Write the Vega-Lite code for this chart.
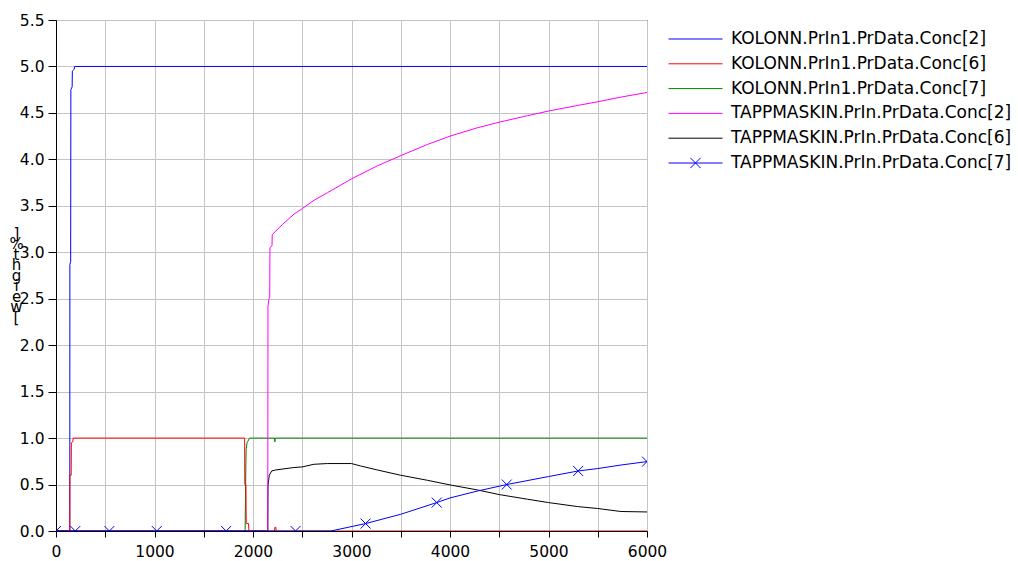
{
  "$schema": "https://vega.github.io/schema/vega-lite/v6.json",
  "width": 591,
  "height": 511,
  "autosize": "none",
  "padding": {"left": 56, "top": 20, "right": 371, "bottom": 30},
  "background": "white",
  "data": {
    "values": [
      {"s": "KOLONN.PrIn1.PrData.Conc[2]", "t": 0, "v": 0},
      {"s": "KOLONN.PrIn1.PrData.Conc[2]", "t": 140, "v": 0},
      {"s": "KOLONN.PrIn1.PrData.Conc[2]", "t": 141, "v": 2.87},
      {"s": "KOLONN.PrIn1.PrData.Conc[2]", "t": 149, "v": 2.9},
      {"s": "KOLONN.PrIn1.PrData.Conc[2]", "t": 151, "v": 4.75},
      {"s": "KOLONN.PrIn1.PrData.Conc[2]", "t": 164, "v": 4.78},
      {"s": "KOLONN.PrIn1.PrData.Conc[2]", "t": 166, "v": 4.95},
      {"s": "KOLONN.PrIn1.PrData.Conc[2]", "t": 185, "v": 4.97},
      {"s": "KOLONN.PrIn1.PrData.Conc[2]", "t": 190, "v": 5.0},
      {"s": "KOLONN.PrIn1.PrData.Conc[2]", "t": 6000, "v": 5.0},

      {"s": "KOLONN.PrIn1.PrData.Conc[7]", "t": 0, "v": 0},
      {"s": "KOLONN.PrIn1.PrData.Conc[7]", "t": 1920, "v": 0},
      {"s": "KOLONN.PrIn1.PrData.Conc[7]", "t": 1925, "v": 0.5},
      {"s": "KOLONN.PrIn1.PrData.Conc[7]", "t": 1930, "v": 0.88},
      {"s": "KOLONN.PrIn1.PrData.Conc[7]", "t": 1940, "v": 0.95},
      {"s": "KOLONN.PrIn1.PrData.Conc[7]", "t": 1965, "v": 1.0},
      {"s": "KOLONN.PrIn1.PrData.Conc[7]", "t": 2218, "v": 1.0},
      {"s": "KOLONN.PrIn1.PrData.Conc[7]", "t": 2222, "v": 0.96},
      {"s": "KOLONN.PrIn1.PrData.Conc[7]", "t": 2226, "v": 1.0},
      {"s": "KOLONN.PrIn1.PrData.Conc[7]", "t": 6000, "v": 1.0},

      {"s": "KOLONN.PrIn1.PrData.Conc[6]", "t": 0, "v": 0},
      {"s": "KOLONN.PrIn1.PrData.Conc[6]", "t": 140, "v": 0},
      {"s": "KOLONN.PrIn1.PrData.Conc[6]", "t": 141, "v": 0.6},
      {"s": "KOLONN.PrIn1.PrData.Conc[6]", "t": 154, "v": 0.6},
      {"s": "KOLONN.PrIn1.PrData.Conc[6]", "t": 156, "v": 0.95},
      {"s": "KOLONN.PrIn1.PrData.Conc[6]", "t": 170, "v": 0.96},
      {"s": "KOLONN.PrIn1.PrData.Conc[6]", "t": 175, "v": 1.0},
      {"s": "KOLONN.PrIn1.PrData.Conc[6]", "t": 1915, "v": 1.0},
      {"s": "KOLONN.PrIn1.PrData.Conc[6]", "t": 1917, "v": 0.5},
      {"s": "KOLONN.PrIn1.PrData.Conc[6]", "t": 1928, "v": 0.5},
      {"s": "KOLONN.PrIn1.PrData.Conc[6]", "t": 1931, "v": 0.08},
      {"s": "KOLONN.PrIn1.PrData.Conc[6]", "t": 1955, "v": 0.08},
      {"s": "KOLONN.PrIn1.PrData.Conc[6]", "t": 1958, "v": 0},
      {"s": "KOLONN.PrIn1.PrData.Conc[6]", "t": 2218, "v": 0},
      {"s": "KOLONN.PrIn1.PrData.Conc[6]", "t": 2222, "v": 0.04},
      {"s": "KOLONN.PrIn1.PrData.Conc[6]", "t": 2232, "v": 0.04},
      {"s": "KOLONN.PrIn1.PrData.Conc[6]", "t": 2235, "v": 0},
      {"s": "KOLONN.PrIn1.PrData.Conc[6]", "t": 6000, "v": 0},

      {"s": "TAPPMASKIN.PrIn.PrData.Conc[6]", "t": 0, "v": 0},
      {"s": "TAPPMASKIN.PrIn.PrData.Conc[6]", "t": 2150, "v": 0},
      {"s": "TAPPMASKIN.PrIn.PrData.Conc[6]", "t": 2152, "v": 0.485},
      {"s": "TAPPMASKIN.PrIn.PrData.Conc[6]", "t": 2165, "v": 0.6},
      {"s": "TAPPMASKIN.PrIn.PrData.Conc[6]", "t": 2190, "v": 0.646},
      {"s": "TAPPMASKIN.PrIn.PrData.Conc[6]", "t": 2230, "v": 0.657},
      {"s": "TAPPMASKIN.PrIn.PrData.Conc[6]", "t": 2415, "v": 0.683},
      {"s": "TAPPMASKIN.PrIn.PrData.Conc[6]", "t": 2500, "v": 0.69},
      {"s": "TAPPMASKIN.PrIn.PrData.Conc[6]", "t": 2618, "v": 0.718},
      {"s": "TAPPMASKIN.PrIn.PrData.Conc[6]", "t": 2754, "v": 0.726},
      {"s": "TAPPMASKIN.PrIn.PrData.Conc[6]", "t": 3000, "v": 0.726},
      {"s": "TAPPMASKIN.PrIn.PrData.Conc[6]", "t": 3092, "v": 0.70},
      {"s": "TAPPMASKIN.PrIn.PrData.Conc[6]", "t": 3262, "v": 0.657},
      {"s": "TAPPMASKIN.PrIn.PrData.Conc[6]", "t": 3500, "v": 0.60},
      {"s": "TAPPMASKIN.PrIn.PrData.Conc[6]", "t": 3770, "v": 0.546},
      {"s": "TAPPMASKIN.PrIn.PrData.Conc[6]", "t": 4000, "v": 0.496},
      {"s": "TAPPMASKIN.PrIn.PrData.Conc[6]", "t": 4278, "v": 0.442},
      {"s": "TAPPMASKIN.PrIn.PrData.Conc[6]", "t": 4500, "v": 0.392},
      {"s": "TAPPMASKIN.PrIn.PrData.Conc[6]", "t": 4786, "v": 0.342},
      {"s": "TAPPMASKIN.PrIn.PrData.Conc[6]", "t": 5000, "v": 0.306},
      {"s": "TAPPMASKIN.PrIn.PrData.Conc[6]", "t": 5295, "v": 0.263},
      {"s": "TAPPMASKIN.PrIn.PrData.Conc[6]", "t": 5500, "v": 0.242},
      {"s": "TAPPMASKIN.PrIn.PrData.Conc[6]", "t": 5735, "v": 0.21},
      {"s": "TAPPMASKIN.PrIn.PrData.Conc[6]", "t": 6000, "v": 0.205},

      {"s": "TAPPMASKIN.PrIn.PrData.Conc[2]", "t": 0, "v": 0},
      {"s": "TAPPMASKIN.PrIn.PrData.Conc[2]", "t": 2150, "v": 0},
      {"s": "TAPPMASKIN.PrIn.PrData.Conc[2]", "t": 2152, "v": 2.42},
      {"s": "TAPPMASKIN.PrIn.PrData.Conc[2]", "t": 2162, "v": 2.5},
      {"s": "TAPPMASKIN.PrIn.PrData.Conc[2]", "t": 2170, "v": 2.52},
      {"s": "TAPPMASKIN.PrIn.PrData.Conc[2]", "t": 2172, "v": 3.05},
      {"s": "TAPPMASKIN.PrIn.PrData.Conc[2]", "t": 2193, "v": 3.07},
      {"s": "TAPPMASKIN.PrIn.PrData.Conc[2]", "t": 2195, "v": 3.19},
      {"s": "TAPPMASKIN.PrIn.PrData.Conc[2]", "t": 2300, "v": 3.3},
      {"s": "TAPPMASKIN.PrIn.PrData.Conc[2]", "t": 2415, "v": 3.41},
      {"s": "TAPPMASKIN.PrIn.PrData.Conc[2]", "t": 2500, "v": 3.47},
      {"s": "TAPPMASKIN.PrIn.PrData.Conc[2]", "t": 2620, "v": 3.56},
      {"s": "TAPPMASKIN.PrIn.PrData.Conc[2]", "t": 2754, "v": 3.64},
      {"s": "TAPPMASKIN.PrIn.PrData.Conc[2]", "t": 3000, "v": 3.79},
      {"s": "TAPPMASKIN.PrIn.PrData.Conc[2]", "t": 3262, "v": 3.93},
      {"s": "TAPPMASKIN.PrIn.PrData.Conc[2]", "t": 3500, "v": 4.04},
      {"s": "TAPPMASKIN.PrIn.PrData.Conc[2]", "t": 3770, "v": 4.16},
      {"s": "TAPPMASKIN.PrIn.PrData.Conc[2]", "t": 4000, "v": 4.25},
      {"s": "TAPPMASKIN.PrIn.PrData.Conc[2]", "t": 4278, "v": 4.34},
      {"s": "TAPPMASKIN.PrIn.PrData.Conc[2]", "t": 4500, "v": 4.40},
      {"s": "TAPPMASKIN.PrIn.PrData.Conc[2]", "t": 4786, "v": 4.47},
      {"s": "TAPPMASKIN.PrIn.PrData.Conc[2]", "t": 5000, "v": 4.52},
      {"s": "TAPPMASKIN.PrIn.PrData.Conc[2]", "t": 5295, "v": 4.58},
      {"s": "TAPPMASKIN.PrIn.PrData.Conc[2]", "t": 5500, "v": 4.62},
      {"s": "TAPPMASKIN.PrIn.PrData.Conc[2]", "t": 5735, "v": 4.67},
      {"s": "TAPPMASKIN.PrIn.PrData.Conc[2]", "t": 6000, "v": 4.72},

      {"s": "TAPPMASKIN.PrIn.PrData.Conc[7]", "t": 0, "v": 0, "m": 1},
      {"s": "TAPPMASKIN.PrIn.PrData.Conc[7]", "t": 196, "v": 0, "m": 1},
      {"s": "TAPPMASKIN.PrIn.PrData.Conc[7]", "t": 542, "v": 0, "m": 1},
      {"s": "TAPPMASKIN.PrIn.PrData.Conc[7]", "t": 1023, "v": 0, "m": 1},
      {"s": "TAPPMASKIN.PrIn.PrData.Conc[7]", "t": 1727, "v": 0, "m": 1},
      {"s": "TAPPMASKIN.PrIn.PrData.Conc[7]", "t": 2432, "v": 0, "m": 1},
      {"s": "TAPPMASKIN.PrIn.PrData.Conc[7]", "t": 2790, "v": 0},
      {"s": "TAPPMASKIN.PrIn.PrData.Conc[7]", "t": 3143, "v": 0.08, "m": 1},
      {"s": "TAPPMASKIN.PrIn.PrData.Conc[7]", "t": 3500, "v": 0.18},
      {"s": "TAPPMASKIN.PrIn.PrData.Conc[7]", "t": 3865, "v": 0.306, "m": 1},
      {"s": "TAPPMASKIN.PrIn.PrData.Conc[7]", "t": 4000, "v": 0.356},
      {"s": "TAPPMASKIN.PrIn.PrData.Conc[7]", "t": 4278, "v": 0.43},
      {"s": "TAPPMASKIN.PrIn.PrData.Conc[7]", "t": 4576, "v": 0.5, "m": 1},
      {"s": "TAPPMASKIN.PrIn.PrData.Conc[7]", "t": 5000, "v": 0.586},
      {"s": "TAPPMASKIN.PrIn.PrData.Conc[7]", "t": 5301, "v": 0.646, "m": 1},
      {"s": "TAPPMASKIN.PrIn.PrData.Conc[7]", "t": 5500, "v": 0.672},
      {"s": "TAPPMASKIN.PrIn.PrData.Conc[7]", "t": 5735, "v": 0.71},
      {"s": "TAPPMASKIN.PrIn.PrData.Conc[7]", "t": 6000, "v": 0.747, "m": 1}
    ]
  },
  "encoding": {
    "x": {
      "field": "t",
      "type": "quantitative",
      "scale": {"domain": [0, 6000], "nice": false, "zero": false},
      "axis": {
        "title": null,
        "values": [0, 500, 1000, 1500, 2000, 2500, 3000, 3500, 4000, 4500, 5000, 5500, 6000],
        "format": "d",
        "labelExpr": "datum.value % 1000 == 0 ? datum.label : ''",
        "tickSize": 6,
        "labelPadding": 7,
        "labelFlush": false,
        "labelOverlap": false
      }
    },
    "y": {
      "field": "v",
      "type": "quantitative",
      "scale": {"domain": [0, 5.5], "nice": false},
      "axis": {
        "values": [0, 0.5, 1, 1.5, 2, 2.5, 3, 3.5, 4, 4.5, 5, 5.5],
        "format": ".1f",
        "tickSize": 8,
        "labelPadding": 4,
        "labelOverlap": false,
        "title": ["]", "%", "t", "h", "g", "i", "e", "w", "["],
        "titleAngle": 0,
        "titleAlign": "center",
        "titleBaseline": "top",
        "titleX": -40,
        "titleY": 206,
        "titleFontSize": 15,
        "titleFontWeight": "normal",
        "titleLineHeight": 10.5,
        "titleFont": "DejaVu Sans"
      }
    }
  },
  "layer": [
    {
      "mark": {"type": "line", "strokeWidth": 1, "clip": true},
      "encoding": {
        "color": {
          "field": "s",
          "type": "nominal",
          "scale": {
            "domain": [
              "KOLONN.PrIn1.PrData.Conc[2]",
              "KOLONN.PrIn1.PrData.Conc[6]",
              "KOLONN.PrIn1.PrData.Conc[7]",
              "TAPPMASKIN.PrIn.PrData.Conc[2]",
              "TAPPMASKIN.PrIn.PrData.Conc[6]",
              "TAPPMASKIN.PrIn.PrData.Conc[7]"
            ],
            "range": ["#0000ff", "#ff0000", "#008000", "#ff00ff", "#000000", "#0000ff"]
          },
          "legend": {
            "title": null,
            "orient": "none",
            "legendX": 612,
            "legendY": 11,
            "padding": 0,
            "symbolType": "stroke",
            "symbolSize": 2916,
            "symbolStrokeWidth": 1,
            "clipHeight": 16,
            "rowPadding": 7.8,
            "labelFont": "DejaVu Sans",
            "labelFontSize": 17,
            "labelColor": "#000",
            "labelOffset": 8,
            "labelLimit": 400,
            "encode": {
              "symbols": {
                "update": {
                  "shape": {"signal": "datum.label === 'TAPPMASKIN.PrIn.PrData.Conc[7]' ? 'M-1,0L1,0M-0.19,-0.19L0.19,0.19M-0.19,0.19L0.19,-0.19' : 'stroke'"}
                }
              }
            }
          }
        }
      }
    },
    {
      "transform": [{"filter": "datum.m == 1"}],
      "mark": {
        "type": "point",
        "shape": "M-1,-1L1,1M-1,1L1,-1",
        "size": 100,
        "filled": false,
        "color": "#0000ff",
        "strokeWidth": 1,
        "opacity": 1,
        "clip": true
      }
    }
  ],
  "config": {
    "font": "DejaVu Sans",
    "view": {"stroke": "#000", "strokeWidth": 1},
    "axis": {
      "grid": true,
      "gridColor": "#c4c4c4",
      "gridOpacity": 1,
      "gridWidth": 1,
      "domainColor": "#000",
      "tickColor": "#000",
      "labelColor": "#000",
      "labelFont": "DejaVu Sans",
      "labelFontSize": 15.5,
      "titleColor": "#000"
    }
  }
}
